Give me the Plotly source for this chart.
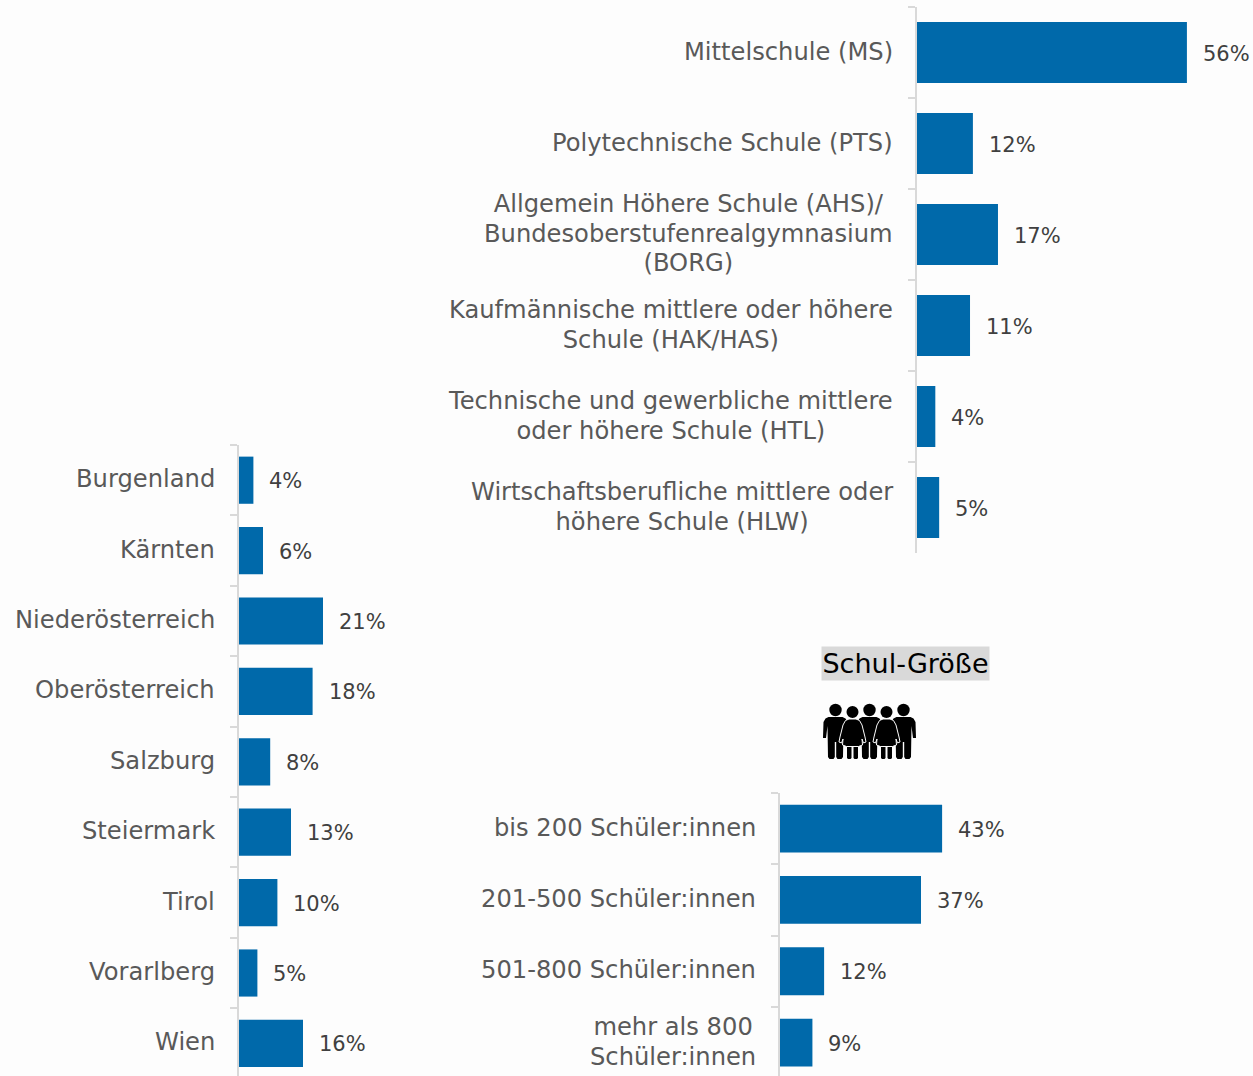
import plotly.graph_objects as go

W, H = 1253, 1076
FONT = "DejaVu Sans"
BLUE = "#0069AA"
AXIS = "#D9D9D9"
LABEL_COL = "#595959"
VALUE_COL = "#404040"
LINE_SIZE = 22.7   # sets the distance between the lines of a label
LABEL_SIZE = 24.2  # sets the size of the glyphs
VALUE_SIZE = 21

school_types = [
    "Mittelschule (MS)",
    "Polytechnische Schule (PTS)",
    "Allgemein Höhere Schule (AHS)/<br>Bundesoberstufenrealgymnasium<br>(BORG)",
    "Kaufmännische mittlere oder höhere<br>Schule (HAK/HAS)",
    "Technische und gewerbliche mittlere<br>oder höhere Schule (HTL)",
    "Wirtschaftsberufliche mittlere oder<br>höhere Schule (HLW)",
]
school_values = [56.0, 11.6, 16.8, 11.0, 3.8, 4.6]

states = ["Burgenland", "Kärnten", "Niederösterreich", "Oberösterreich", "Salzburg",
          "Steiermark", "Tirol", "Vorarlberg", "Wien"]
state_values = [3.6, 6.0, 21.0, 18.4, 7.8, 13.0, 9.6, 4.6, 16.0]

sizes = ["bis 200 Schüler:innen", "201-500 Schüler:innen", "501-800 Schüler:innen",
         "mehr als 800<br>Schüler:innen"]
size_values = [43.0, 37.4, 11.7, 8.6]

size_title = "Schul-Größe"


def px_x(x):
    return x / W


def px_y(y):
    return 1 - y / H


def sized(label):
    return "<br>".join(f'<span style="font-size:{LABEL_SIZE}px">{part}</span>'
                       for part in label.split("<br>"))


fig = go.Figure()
panels = [
    # categories, values, left, right, top, bottom, px per unit, px per band
    (school_types, school_values, 917, 1253, 7, 553, 4.82, 91.0),
    (states, state_values, 239, 500, 445, 1076, 4.0, 70.4),
    (sizes, size_values, 780, 1100, 793, 1076, 3.77, 71.3),
]
annotations = []
for i, (cats, vals, left, right, top, bottom, scale, band) in enumerate(panels, start=1):
    s = "" if i == 1 else str(i)
    fig.add_trace(go.Bar(
        x=vals, y=cats, orientation="h", xaxis=f"x{s}", yaxis=f"y{s}",
        marker=dict(color=BLUE, line=dict(width=0)),
        showlegend=False, hoverinfo="skip",
    ))
    fig.update_layout({
        f"xaxis{s}": dict(domain=[px_x(left), px_x(right)], range=[0, (right - left) / scale],
                          visible=False, anchor=f"y{s}"),
        f"yaxis{s}": dict(domain=[px_y(bottom), px_y(top)],
                          range=[-0.5 + (bottom - top) / band, -0.5],
                          type="category", categoryorder="array", categoryarray=cats,
                          anchor=f"x{s}", showgrid=False, showticklabels=False,
                          showline=True, linecolor=AXIS, linewidth=2,
                          ticks="outside", tickson="boundaries", ticklen=7,
                          tickcolor=AXIS, tickwidth=2),
    })
    for c, v in zip(cats, vals):
        annotations.append(dict(
            xref=f"x{s}", yref=f"y{s}", x=0, y=c, text=sized(c), showarrow=False,
            xanchor="right", yanchor="middle", align="center", xshift=-22, yshift=1,
            font=dict(family=FONT, size=LINE_SIZE, color=LABEL_COL),
        ))
        annotations.append(dict(
            xref=f"x{s}", yref=f"y{s}", x=v, y=c, text=f"{v:.0f}%", showarrow=False,
            xanchor="left", yanchor="middle", xshift=14, yshift=-1,
            font=dict(family=FONT, size=VALUE_SIZE, color=VALUE_COL),
        ))

annotations.append(dict(
    xref="paper", yref="paper", x=px_x(905.5), y=px_y(663.5), text=size_title, showarrow=False,
    xanchor="center", yanchor="middle", bgcolor="#D9D9D9", borderpad=0, width=167, height=33,
    font=dict(family=FONT, size=27, color="#000000"),
))

# People pictogram, drawn in pixel positions on the page
shapes = []


def circle(cx, cy, r):
    shapes.append(dict(type="circle", xref="paper", yref="paper",
                       x0=px_x(cx - r), x1=px_x(cx + r), y0=px_y(cy + r), y1=px_y(cy - r),
                       fillcolor="black", line=dict(width=0)))


def poly(points, line_color=None):
    d = "M" + " L".join(f"{px_x(x):.5f},{px_y(y):.5f}" for x, y in points) + " Z"
    shapes.append(dict(type="path", xref="paper", yref="paper", path=d, fillcolor="black",
                       line=dict(width=1 if line_color else 0, color=line_color or "black")))


def man(cx):
    circle(cx, 710, 6.2)
    poly([(cx - 7, 717), (cx + 7, 717), (cx + 10, 718.5), (cx + 12, 722), (cx + 12.5, 738),
          (cx + 9.5, 738), (cx + 8, 726), (cx + 7.5, 757), (cx + 6, 759), (cx + 2, 759),
          (cx + 0.7, 757), (cx + 0.7, 742), (cx - 0.7, 742), (cx - 0.7, 757), (cx - 2, 759),
          (cx - 6, 759), (cx - 7.5, 757), (cx - 8, 726), (cx - 9.5, 738), (cx - 12.5, 738),
          (cx - 12, 722), (cx - 10, 718.5)])


def woman(cx):
    circle(cx, 712, 6.0)
    for dx in (-5.5, 1):
        poly([(cx + dx, 745), (cx + dx + 4.5, 745), (cx + dx + 4.5, 758), (cx + dx + 3.5, 759),
              (cx + dx + 1, 759), (cx + dx, 758)])
    poly([(cx - 3.5, 719), (cx + 3.5, 719), (cx + 7, 720.5), (cx + 9.5, 725), (cx + 12.5, 737),
          (cx + 13.5, 742), (cx + 11, 743), (cx + 9.5, 739), (cx + 10, 745), (cx + 6, 746.5),
          (cx - 6, 746.5), (cx - 10, 745), (cx - 9.5, 739), (cx - 11, 743), (cx - 13.5, 742),
          (cx - 12.5, 737), (cx - 9.5, 725), (cx - 7, 720.5)], line_color="#FDFDFD")


for cx in (835.5, 869.5, 903.5):
    man(cx)
for cx in (852.5, 886.5):
    woman(cx)

fig.update_layout(
    width=W, height=H, autosize=False,
    margin=dict(l=0, r=0, t=0, b=0, pad=0),
    paper_bgcolor="#FDFDFD", plot_bgcolor="rgba(0,0,0,0)",
    bargap=0.33, annotations=annotations, shapes=shapes,
    font=dict(family=FONT),
)
fig.write_html("out.html", config={"displayModeBar": False},
               post_script="document.body.style.margin='0';document.body.style.background='#FDFDFD';")
